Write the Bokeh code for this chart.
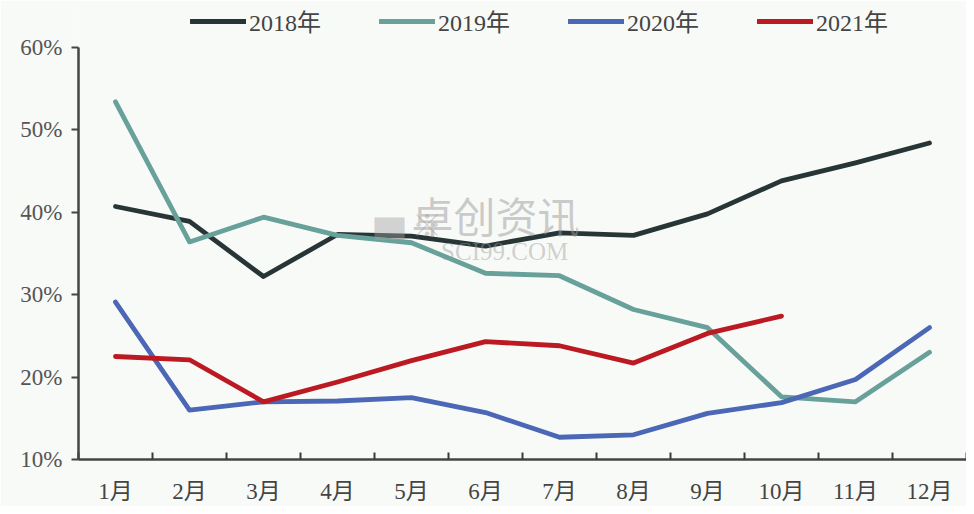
from bokeh.plotting import figure
from bokeh.models import FixedTicker, Legend, LegendItem, Label, Range1d
from bokeh.embed import file_html
from bokeh.resources import INLINE

months = ["1月", "2月", "3月", "4月", "5月", "6月", "7月", "8月", "9月", "10月", "11月", "12月"]
y2018 = [40.7, 38.9, 32.2, 37.3, 37.1, 35.9, 37.5, 37.2, 39.8, 43.8, 46.0, 48.4]
y2019 = [53.4, 36.4, 39.4, 37.2, 36.3, 32.6, 32.3, 28.2, 26.0, 17.6, 17.0, 23.0]
y2020 = [29.1, 16.0, 17.0, 17.1, 17.5, 15.7, 12.7, 13.0, 15.6, 16.9, 19.7, 26.0]
y2021 = [22.5, 22.1, 17.0, 19.4, 22.0, 24.3, 23.8, 21.7, 25.3, 27.4]
y_ticks = [10, 20, 30, 40, 50, 60]
series_names = ["2018年", "2019年", "2020年", "2021年"]

colors = ["#283536", "#68a09a", "#4c67b5", "#bb1a22"]
FONT = "'Liberation Serif', 'Noto Sans CJK SC', serif"
BG = "#f8faf8"

xs = list(range(1, len(months) + 1))

# frame spans from top of figure; the y axis line is bounded to 10..60
p = figure(width=966, height=506, output_backend="svg", toolbar_location=None,
           x_range=Range1d(0.5, 12.5), y_range=Range1d(10, 65.45),
           min_border_left=78, min_border_right=0, min_border_top=2, min_border_bottom=46,
           background_fill_color=BG, border_fill_color=BG, outline_line_color=None)
p.grid.visible = False

renderers = []
for vals, c in zip([y2018, y2019, y2020, y2021], colors):
    r = p.line(xs[:len(vals)], vals, line_color=c, line_width=4.8, line_join="round", line_cap="round")
    renderers.append(r)

# x axis
xa = p.xaxis[0]
xa.ticker = FixedTicker(ticks=xs, minor_ticks=[x + 0.5 for x in range(0, 13)])
xa.major_label_overrides = {x: m for x, m in zip(xs, months)}
xa.major_tick_in = 0
xa.major_tick_out = 0
xa.minor_tick_in = 7
xa.minor_tick_out = 0
xa.minor_tick_line_color = "#3a3a3a"
xa.minor_tick_line_width = 2
xa.axis_line_color = "#444444"
xa.axis_line_width = 2.5
xa.major_label_text_font = FONT
xa.major_label_text_font_size = "23px"
xa.major_label_text_color = "#444444"
xa.major_label_standoff = 19

# y axis
ya = p.yaxis[0]
ya.ticker = FixedTicker(ticks=y_ticks, minor_ticks=[])
ya.bounds = (10, 60)
ya.major_label_overrides = {t: f"{t}%" for t in y_ticks}
ya.major_tick_in = 0
ya.major_tick_out = 7
ya.major_tick_line_color = "#444444"
ya.major_tick_line_width = 2
ya.axis_line_color = "#444444"
ya.axis_line_width = 2.5
ya.major_label_text_font = FONT
ya.major_label_text_font_size = "23px"
ya.major_label_text_color = "#555555"
ya.major_label_standoff = 9

# watermark
p.add_layout(Label(x=4.5, y=36.4, text="▆ ※", text_font=FONT, text_font_size="30px",
                   text_color="#a0a0a0", text_alpha=0.45, text_baseline="bottom"))
p.add_layout(Label(x=5.0, y=36.4, text="卓创资讯", text_font=FONT, text_font_size="42px",
                   text_color="#9a9a9a", text_alpha=0.5, text_baseline="bottom"))
p.add_layout(Label(x=5.4, y=33.6, text="SCI99.COM", text_font=FONT, text_font_size="25px",
                   text_color="#9a9a9a", text_alpha=0.45, text_baseline="bottom"))

legend = Legend(items=[LegendItem(label=n, renderers=[r]) for n, r in zip(series_names, renderers)],
                orientation="horizontal", location=(112, 421),
                background_fill_alpha=0, border_line_color=None,
                label_text_font=FONT, label_text_font_size="24px", label_text_color="#444444",
                glyph_width=56, glyph_height=24, label_height=24, label_standoff=3, spacing=58,
                padding=0, margin=0)
p.add_layout(legend, "center")

open("out.html", "w").write(file_html(p, INLINE))
